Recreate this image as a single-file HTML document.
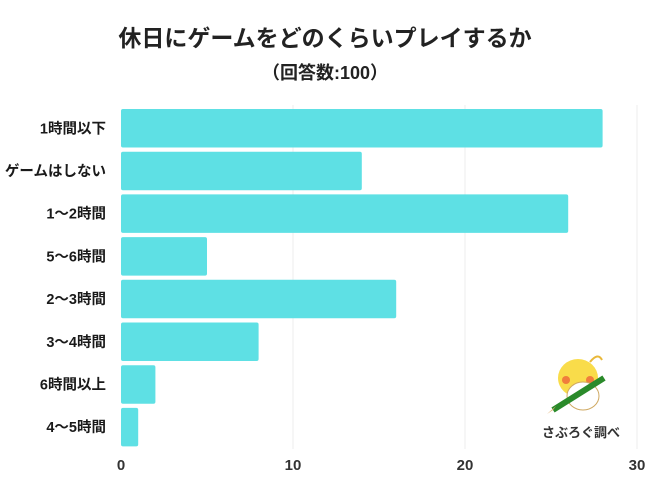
<!DOCTYPE html>
<html><head><meta charset="utf-8"><style>
body{margin:0;background:#fff;width:650px;height:488px;overflow:hidden;font-family:"Liberation Sans","Noto Sans CJK JP",sans-serif}
</style></head><body>
<svg width="650" height="488" viewBox="0 0 650 488" xmlns="http://www.w3.org/2000/svg">
<text x="325" y="46" text-anchor="middle" font-size="23" font-weight="bold" fill="#222" font-family="Liberation Sans, Noto Sans CJK JP, sans-serif">休日にゲームをどのくらいプレイするか</text>
<text x="325" y="79" text-anchor="middle" font-size="18" font-weight="bold" fill="#222" font-family="Liberation Sans, Noto Sans CJK JP, sans-serif">（回答数:100）</text>
<g id="grid"></g><g id="bars"></g><g id="ylabels"></g><g id="xlabels"></g>
<g>
<ellipse cx="578" cy="378" rx="20" ry="19" fill="#f9dc4a"/>
<path d="M590 362 q8 -10 12 -2" stroke="#e9b83a" fill="none" stroke-width="2"/>
<circle cx="566" cy="380" r="4" fill="#f07d3c"/><circle cx="590" cy="380" r="4" fill="#f07d3c"/>
<ellipse cx="583" cy="396" rx="16" ry="14" fill="#fff" stroke="#cfa860" stroke-width="1"/>
<line x1="553" y1="410" x2="604" y2="378" stroke="#2a8a2a" stroke-width="6"/>
<polygon points="553,410 547,414 556,406" fill="#e0b070"/>
<text x="581" y="437" text-anchor="middle" font-size="13" font-weight="bold" fill="#333" font-family="Liberation Sans, Noto Sans CJK JP, sans-serif">さぶろぐ調べ</text>
</g>
</svg>
<script>
const categories=["1時間以下","ゲームはしない","1〜2時間","5〜6時間","2〜3時間","3〜4時間","6時間以上","4〜5時間"];
const values=[28,14,26,5,16,8,2,1];
const ticks=[0,10,20,30];
const NS="http://www.w3.org/2000/svg";
const x=v=>121+v*17.2;
const y=i=>109+i*42.7;
const bh=38.5;
function mk(t,a){const e=document.createElementNS(NS,t);for(const k in a)e.setAttribute(k,a[k]);return e;}
const g=document.getElementById('grid'),b=document.getElementById('bars'),yl=document.getElementById('ylabels'),xl=document.getElementById('xlabels');
ticks.forEach(t=>{
 if(t>0){const l=mk('line',{x1:x(t),x2:x(t),y1:105,y2:449,stroke:'#ececec','stroke-width':1});
 
 g.appendChild(l);}
 const tx=mk('text',{x:x(t),y:470,'text-anchor':'middle','font-size':15,'font-weight':'bold',fill:'#333'});
 tx.textContent=t;
 
 xl.appendChild(tx);
});
categories.forEach((c,i)=>{
 const r=mk('rect',{x:x(0),y:y(i),width:x(values[i])-x(0),height:bh,rx:2,fill:'#5ee0e4'});
 
 b.appendChild(r);
 const t=mk('text',{x:106,y:y(i)+bh/2+5,'text-anchor':'end','font-size':14.5,'font-weight':'bold',fill:'#1a1a1a'});
 t.textContent=c;
 
 yl.appendChild(t);
});
</script>
</body></html>
